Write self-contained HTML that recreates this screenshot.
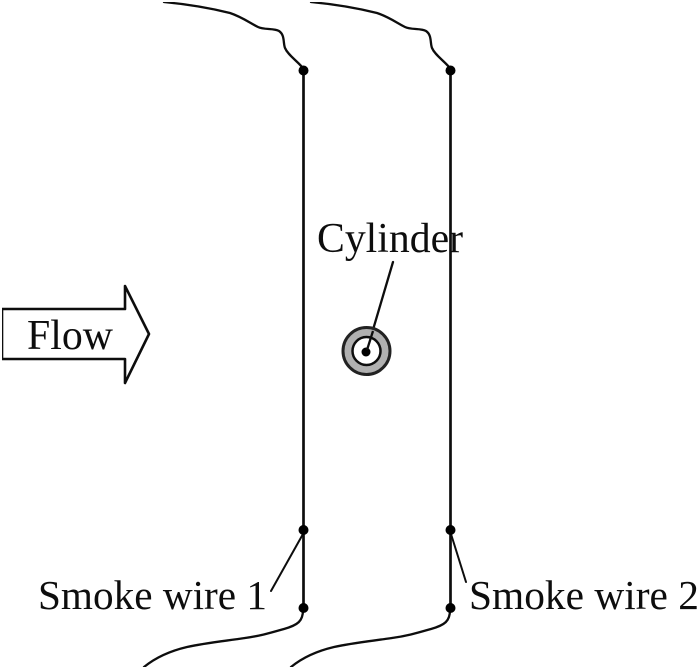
<!DOCTYPE html>
<html><head><meta charset="utf-8"><style>
html,body{margin:0;padding:0;background:#fff}
svg{display:block}
text{font-family:"Liberation Serif",serif;fill:#111}
</style></head><body>
<svg width="700" height="669" viewBox="0 0 700 669" xmlns="http://www.w3.org/2000/svg">
<defs><filter id="b" x="0" y="0" width="100%" height="100%"><feGaussianBlur stdDeviation="0.35"/></filter></defs>
<g filter="url(#b)">
<g fill="none" stroke="#0c0c0c" stroke-linecap="round" stroke-linejoin="round">
<path stroke-width="2.300" d="M164 2C185 4 210 8 230 13C242 17 250 23 258 27C264 30 274 28 279 31C285 35 283 43 285 48C288 55 296 60 302 67"/>
<path stroke-width="2.300" d="M311 2C332 4 357 8 377 13C389 17 397 23 405 27C411 30 421 28 426 31C432 35 430 43 432 48C435 55 443 60 449 67"/>
<path stroke-width="2.700" d="M303.500 70V608M450.500 70V608"/>
<path stroke-width="2.300" d="M303 610C303 621 298 625 284 629C270 633 260 636 245 638C225 641 205 643 187 647C170 651 155 658 144 667"/>
<path stroke-width="2.300" d="M450 610C450 621 445 625 431 629C417 633 407 636 392 638C372 641 352 643 334 647C317 651 302 658 291 667"/>
<path stroke-width="2" d="M303 534L271 591M451 534L466 582"/>
<path stroke-width="2.300" d="M393 262L367 350"/>
<path stroke-width="2.600" fill="#fff" d="M2 309H125V286L149 334L125 383V359H2Z"/>
</g>
<g fill="#000">
<circle cx="303.500" cy="70.500" r="5"/><circle cx="450.500" cy="70.500" r="5"/>
<circle cx="303.500" cy="530" r="5"/><circle cx="450.500" cy="530" r="5"/>
<circle cx="303.500" cy="608" r="5"/><circle cx="450.500" cy="608" r="5"/>
</g>
<circle cx="366.500" cy="351" r="23.500" fill="#b0b0b0" stroke="#222" stroke-width="3"/>
<circle cx="366.500" cy="351" r="14" fill="#fff" stroke="#111" stroke-width="2.500"/>
<circle cx="366" cy="352" r="4.500" fill="#000"/>
<path d="M373 331L367 350" stroke="#0c0c0c" stroke-width="2.300" fill="none"/>
<text x="317" y="252" font-size="42" textLength="146" lengthAdjust="spacingAndGlyphs">Cylinder</text>
<text x="27" y="349" font-size="42" textLength="86" lengthAdjust="spacingAndGlyphs">Flow</text>
<text x="38" y="609" font-size="41" textLength="229" lengthAdjust="spacingAndGlyphs">Smoke wire 1</text>
<text x="469" y="609" font-size="41" textLength="230" lengthAdjust="spacingAndGlyphs">Smoke wire 2</text>
</g>
</svg>
</body></html>
